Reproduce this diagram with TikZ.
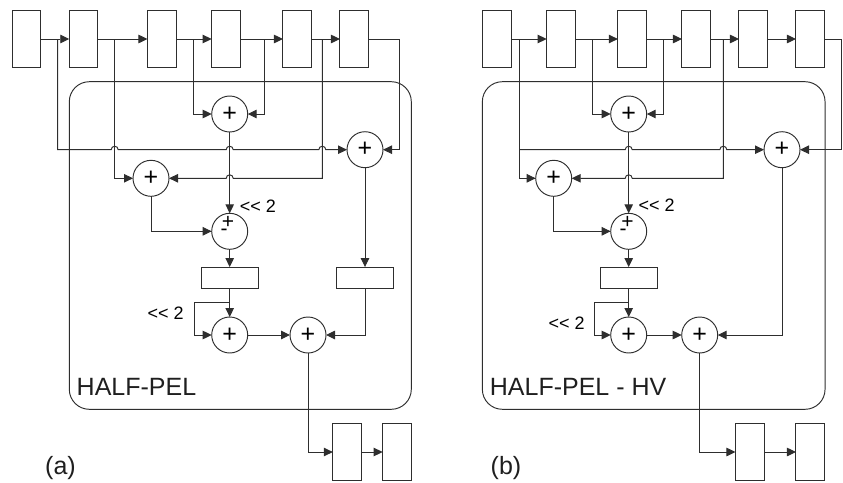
\documentclass[tikz,border=0pt]{standalone}
\usepackage{fontspec}
\setmainfont{Liberation Sans}
\usetikzlibrary{arrows.meta,calc}
\newcommand{\hopover}[2]{-- ($(#1 |- #2)+(-3.5,0)$) arc[start angle=180,end angle=0,radius=3.5pt]}
\begin{document}
\begin{tikzpicture}[x=1pt,y=-1pt,
  lineink/.style={draw=black!82,line width=0.95pt},
  tallbox/.style={lineink,rectangle,minimum width=28.7pt,minimum height=57pt,inner sep=0pt,outer sep=0pt},
  widebox/.style={lineink,rectangle,minimum width=57.3pt,minimum height=21.3pt,inner sep=0pt,outer sep=0pt},
  frame/.style={lineink,rectangle,rounded corners=20pt,inner sep=0pt,outer sep=0pt},
  sumnode/.style={lineink,circle,minimum size=36pt,inner sep=0pt,outer sep=0pt,font=\fontsize{25}{25}\selectfont},
  conn/.style={lineink,-{Triangle[length=9pt,width=8.5pt]}},
  wire/.style={lineink},
  signtext/.style={inner sep=0pt,font=\fontsize{21}{21}\selectfont},
  shifttext/.style={inner sep=0pt,font=\fontsize{18}{18}\selectfont},
  paneltext/.style={inner sep=0pt,anchor=base west,font=\fontsize{25}{25}\selectfont,text=black!88},
]
\useasboundingbox (0,0) rectangle (843,482);

% ---------- panel (a)
\node[frame,minimum width=342pt,minimum height=327.6pt] (aframe) at (240.3,245.5) {};
\node[tallbox] (ar1) at (26.5,39) {};
\node[tallbox] (ar2) at (83.6,39) {};
\node[tallbox] (ar3) at (161.8,39) {};
\node[tallbox] (ar4) at (226,39) {};
\node[tallbox] (ar5) at (297.3,39) {};
\node[tallbox] (ar6) at (354.3,39) {};
\node[sumnode] (as1) at (229.7,114) {+};
\node[sumnode] (as2) at (365,149.7) {+};
\node[sumnode] (as3) at (151,178.3) {+};
\node[sumnode] (as4) at (229.7,231.3) {};
\node[signtext] (aplus) at (228,222.5) {+};
\node[signtext] (aminus) at (224,232) {-};
\node[widebox] (aw1) at (229.7,277.7) {};
\node[widebox] (aw2) at (365,277.7) {};
\node[sumnode] (as5) at (229.7,335) {+};
\node[sumnode] (as6) at (308,335) {+};
\node[tallbox] (ao1) at (347.2,452) {};
\node[tallbox] (ao2) at (397,452) {};
\node[shifttext] (ash1) at (258,206) {<{}< 2};
\node[shifttext] (ash2) at (165.7,313.5) {<{}< 2};
\node[paneltext] (alabel) at (76.5,395) {HALF-PEL};
\node[paneltext] (acap) at (45,474) {(a)};

\coordinate (ata) at (57.7,39);
\coordinate (atb) at (114.7,39);
\coordinate (atc) at (193,39);
\coordinate (atd) at (264,39);
\coordinate (ate) at (322.3,39);
\coordinate (atf) at (399.7,39);
\coordinate (afb) at (229.7,302.3);
\coordinate (afc) at (194.7,302.3);

\draw[conn] (ar1.east) -- (ar2.west);
\draw[conn] (ar2.east) -- (ar3.west);
\draw[conn] (ar3.east) -- (ar4.west);
\draw[conn] (ar4.east) -- (ar5.west);
\draw[conn] (ar5.east) -- (ar6.west);
\draw[conn] (atc) |- (as1.west);
\draw[conn] (atd) |- (as1.east);
\draw[conn] (ata) -- (ata |- as2) \hopover{atb}{as2} \hopover{as1}{as2} \hopover{ate}{as2} -- (as2.west);
\draw[conn] (atb) |- (as3.west);
\draw[conn] (ate) -- (ate |- as3) -- ($(as1 |- as3)+(3.5,0)$) arc[start angle=0,end angle=180,radius=3.5pt] -- (as3.east);
\draw[conn] (ar6.east) -- (atf) |- (as2.east);
\draw[conn] (as1.south) -- (as4.north);
\draw[conn] (as3.south) |- (as4.west);
\draw[conn] (as4.south) -- (aw1.north);
\draw[conn] (as2.south) -- (aw2.north);
\draw[conn] (aw1.south) -- (as5.north);
\draw[wire] (afb) -- (afc);
\draw[conn] (afc) |- (as5.west);
\draw[conn] (as5.east) -- (as6.west);
\draw[conn] (aw2.south) |- (as6.east);
\draw[conn] (as6.south) |- (ao1.west);
\draw[conn] (ao1.east) -- (ao2.west);

% ---------- panel (b)
\node[frame,minimum width=342.7pt,minimum height=327.6pt] (bframe) at (653.7,245.5) {};
\node[tallbox] (br1) at (496.8,39) {};
\node[tallbox] (br2) at (561,39) {};
\node[tallbox] (br3) at (632.2,39) {};
\node[tallbox] (br4) at (696.3,39) {};
\node[tallbox] (br5) at (753.3,39) {};
\node[tallbox] (br6) at (810.3,39) {};
\node[sumnode] (bs1) at (628.7,114) {+};
\node[sumnode] (bs2) at (782,149.7) {+};
\node[sumnode] (bs3) at (553.7,178.3) {+};
\node[sumnode] (bs4) at (628.7,231.3) {};
\node[signtext] (bplus) at (627.5,222.5) {+};
\node[signtext] (bminus) at (623,232) {-};
\node[widebox] (bw1) at (628.7,277.7) {};
\node[sumnode] (bs5) at (628.7,335) {+};
\node[sumnode] (bs6) at (699.7,335) {+};
\node[tallbox] (bo1) at (749.8,452) {};
\node[tallbox] (bo2) at (810.3,452) {};
\node[shifttext] (bsh1) at (656.7,205.3) {<{}< 2};
\node[shifttext] (bsh2) at (566.7,323.3) {<{}< 2};
\node[paneltext] (blabel) at (489.7,395) {HALF-PEL - HV};
\node[paneltext] (bcap) at (490.5,474) {(b)};

\coordinate (bta) at (519.7,39);
\coordinate (btb) at (592,39);
\coordinate (btc) at (663.3,39);
\coordinate (btd) at (723.3,39);
\coordinate (bte) at (841.7,39);
\coordinate (bfb) at (628.7,302);
\coordinate (bfc) at (594,302);

\draw[conn] (br1.east) -- (br2.west);
\draw[conn] (br2.east) -- (br3.west);
\draw[conn] (br3.east) -- (br4.west);
\draw[conn] (br4.east) -- (br5.west);
\draw[conn] (br5.east) -- (br6.west);
\draw[conn] (bta) |- (bs3.west);
\draw[conn] (bta |- bs2) \hopover{bs1}{bs2} \hopover{btd}{bs2} -- (bs2.west);
\draw[conn] (btb) |- (bs1.west);
\draw[conn] (btc) |- (bs1.east);
\draw[conn] (btd) -- (btd |- bs3) -- ($(bs1 |- bs3)+(3.5,0)$) arc[start angle=0,end angle=180,radius=3.5pt] -- (bs3.east);
\draw[conn] (br6.east) -- (bte) |- (bs2.east);
\draw[conn] (bs1.south) -- (bs4.north);
\draw[conn] (bs3.south) |- (bs4.west);
\draw[conn] (bs4.south) -- (bw1.north);
\draw[conn] (bw1.south) -- (bs5.north);
\draw[wire] (bfb) -- (bfc);
\draw[conn] (bfc) |- (bs5.west);
\draw[conn] (bs5.east) -- (bs6.west);
\draw[conn] (bs2.south) |- (bs6.east);
\draw[conn] (bs6.south) |- (bo1.west);
\draw[conn] (bo1.east) -- (bo2.west);
\end{tikzpicture}
\end{document}
